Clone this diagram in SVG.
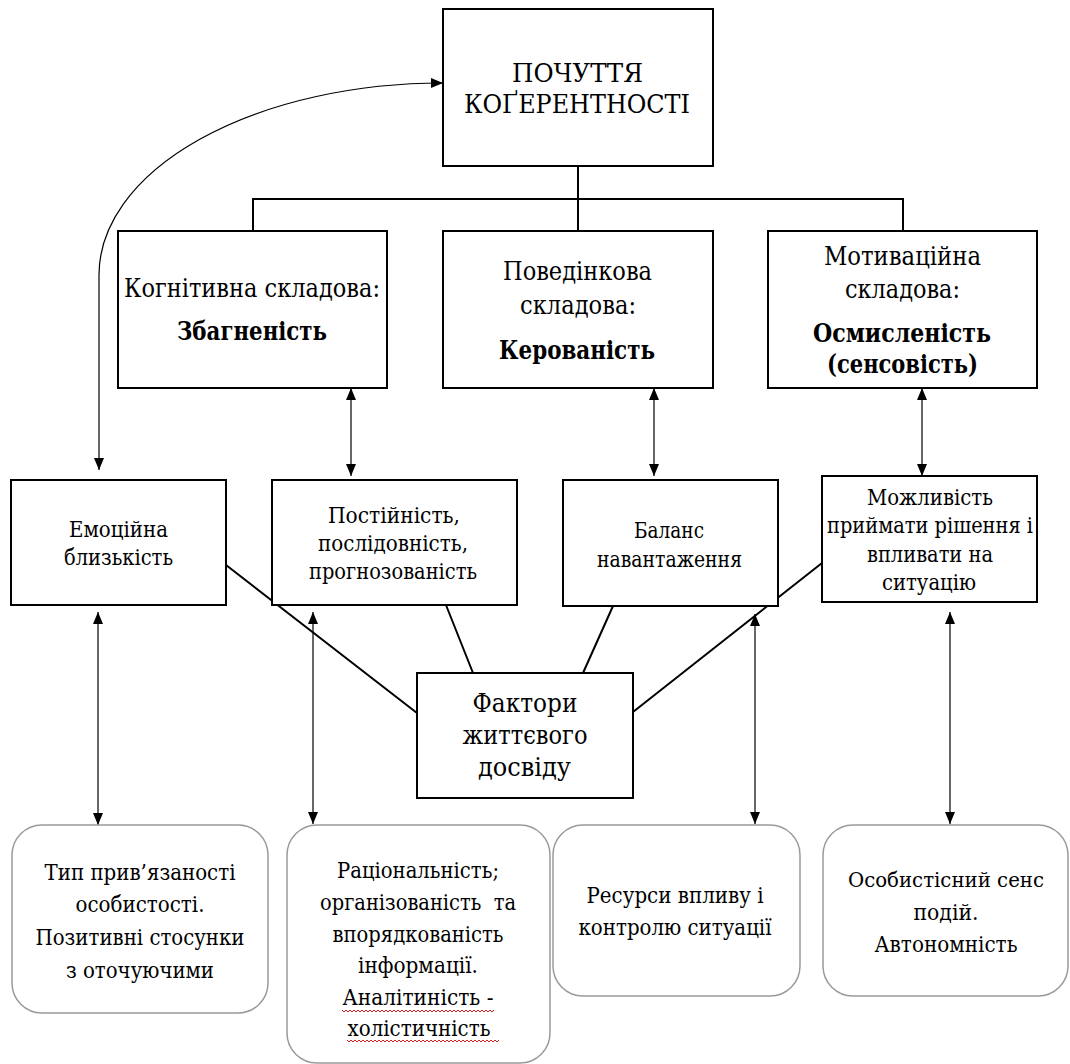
<svg xmlns="http://www.w3.org/2000/svg" width="1070" height="1064" viewBox="0 0 1070 1064">
<style>
text{font-family:"DejaVu Serif","Noto Serif",serif;fill:#000;text-anchor:middle}
.t26{font-size:26px}
.t23{font-size:23px}
.t21{font-size:21px}
.b{font-weight:bold}
.box{fill:#fff;stroke:#000;stroke-width:2}
.rbox{fill:#fff;stroke:#9a9a9a;stroke-width:1.5}
.tree{fill:none;stroke:#000;stroke-width:2}
.thin{fill:none;stroke:#000;stroke-width:1.2}
.sq{fill:none;stroke:#d42020;stroke-width:1}
</style>
<defs>
<marker id="ah" viewBox="0 0 12 10" refX="12" refY="5" markerWidth="12" markerHeight="10" markerUnits="userSpaceOnUse" orient="auto-start-reverse">
<path d="M0,0 L12,5 L0,10 Z" fill="#000"/>
</marker>
</defs>
<rect width="1070" height="1064" fill="#fff"/>

<g id="connectors">
<path class="tree" d="M578 166 V231 M253 231 V199 H903 V231"/>
<path class="thin" d="M99 470 V275 A344 192 0 0 1 443 83" marker-start="url(#ah)" marker-end="url(#ah)"/>
<line class="thin" x1="351" y1="388" x2="351" y2="476" marker-start="url(#ah)" marker-end="url(#ah)"/>
<line class="thin" x1="654" y1="388" x2="654" y2="476" marker-start="url(#ah)" marker-end="url(#ah)"/>
<line class="thin" x1="922" y1="388" x2="922" y2="476" marker-start="url(#ah)" marker-end="url(#ah)"/>
<line class="thin" x1="98" y1="612" x2="98" y2="825" marker-start="url(#ah)" marker-end="url(#ah)"/>
<line class="thin" x1="313" y1="612" x2="313" y2="824" marker-start="url(#ah)" marker-end="url(#ah)"/>
<line class="thin" x1="755" y1="614" x2="755" y2="824" marker-start="url(#ah)" marker-end="url(#ah)"/>
<line class="thin" x1="950" y1="612" x2="950" y2="824" marker-start="url(#ah)" marker-end="url(#ah)"/>
<path class="tree" d="M226 565 L417 713 M446 605 L473 673 M613 606 L583 673 M633 712 L822 563"/>
</g>

<g id="top">
<rect class="box" x="443" y="9" width="270" height="157"/>
<text class="t26" x="577.5" y="82" textLength="131" lengthAdjust="spacingAndGlyphs">ПОЧУТТЯ</text>
<text class="t26" x="577" y="113" textLength="226" lengthAdjust="spacingAndGlyphs">КОҐЕРЕНТНОСТІ</text>
</g>

<g id="cognitive">
<rect class="box" x="118" y="231" width="269" height="157"/>
<text class="t26" x="252" y="297" textLength="256" lengthAdjust="spacingAndGlyphs">Когнітивна складова:</text>
<text class="t26 b" x="252" y="340" textLength="150" lengthAdjust="spacingAndGlyphs">Збагненість</text>
</g>

<g id="behavioral">
<rect class="box" x="443" y="231" width="270" height="157"/>
<text class="t26" x="577.5" y="280" textLength="149" lengthAdjust="spacingAndGlyphs">Поведінкова</text>
<text class="t26" x="578" y="314" textLength="116" lengthAdjust="spacingAndGlyphs">складова:</text>
<text class="t26 b" x="577" y="359" textLength="156" lengthAdjust="spacingAndGlyphs">Керованість</text>
</g>

<g id="motivational">
<rect class="box" x="768" y="231" width="269" height="157"/>
<text class="t26" x="902.5" y="265" textLength="157" lengthAdjust="spacingAndGlyphs">Мотиваційна</text>
<text class="t26" x="902.5" y="298" textLength="115" lengthAdjust="spacingAndGlyphs">складова:</text>
<text class="t26 b" x="902" y="342" textLength="178" lengthAdjust="spacingAndGlyphs">Осмисленість</text>
<text class="t26 b" x="902.5" y="373" textLength="151" lengthAdjust="spacingAndGlyphs">(сенсовість)</text>
</g>

<g id="emotional">
<rect class="box" x="11" y="480" width="215" height="125"/>
<text class="t23" x="118.5" y="537" textLength="99" lengthAdjust="spacingAndGlyphs">Емоційна</text>
<text class="t23" x="118.5" y="565" textLength="109" lengthAdjust="spacingAndGlyphs">близькість</text>
</g>

<g id="constancy">
<rect class="box" x="272" y="480" width="245" height="125"/>
<text class="t23" x="394" y="523" textLength="132" lengthAdjust="spacingAndGlyphs">Постійність,</text>
<text class="t23" x="393" y="551" textLength="150" lengthAdjust="spacingAndGlyphs">послідовність,</text>
<text class="t23" x="393" y="579" textLength="168" lengthAdjust="spacingAndGlyphs">прогнозованість</text>
</g>

<g id="balance">
<rect class="box" x="563" y="480" width="215" height="126"/>
<text class="t23" x="669" y="538" textLength="70" lengthAdjust="spacingAndGlyphs">Баланс</text>
<text class="t23" x="669.5" y="567" textLength="145" lengthAdjust="spacingAndGlyphs">навантаження</text>
</g>

<g id="possibility">
<rect class="box" x="822" y="476" width="215" height="126"/>
<text class="t23" x="930" y="505" textLength="126" lengthAdjust="spacingAndGlyphs">Можливість</text>
<text class="t23" x="930" y="533" textLength="206" lengthAdjust="spacingAndGlyphs">приймати рішення і</text>
<text class="t23" x="930" y="562" textLength="126" lengthAdjust="spacingAndGlyphs">впливати на</text>
<text class="t23" x="929" y="590" textLength="94" lengthAdjust="spacingAndGlyphs">ситуацію</text>
</g>

<g id="factors">
<rect class="box" x="417" y="673" width="216" height="125"/>
<text class="t26" x="525" y="712" textLength="105" lengthAdjust="spacingAndGlyphs">Фактори</text>
<text class="t26" x="525" y="744" textLength="125" lengthAdjust="spacingAndGlyphs">життєвого</text>
<text class="t26" x="524.5" y="776" textLength="93" lengthAdjust="spacingAndGlyphs">досвіду</text>
</g>

<g id="attachment">
<rect class="rbox" x="12" y="825" width="256" height="188" rx="30"/>
<text class="t23" x="140" y="880" textLength="191" lengthAdjust="spacingAndGlyphs">Тип прив’язаності</text>
<text class="t23" x="140" y="912" textLength="129" lengthAdjust="spacingAndGlyphs">особистості.</text>
<text class="t23" x="140" y="945" textLength="209" lengthAdjust="spacingAndGlyphs">Позитивні стосунки</text>
<text class="t23" x="140" y="978" textLength="148" lengthAdjust="spacingAndGlyphs">з оточуючими</text>
</g>

<g id="rationality">
<rect class="rbox" x="287" y="825" width="263" height="238" rx="30"/>
<text class="t23" x="418" y="878" textLength="162" lengthAdjust="spacingAndGlyphs">Раціональність;</text>
<text class="t23" x="418" y="910" textLength="196" lengthAdjust="spacingAndGlyphs" xml:space="preserve">організованість  та</text>
<text class="t23" x="418" y="942" textLength="171" lengthAdjust="spacingAndGlyphs">впорядкованість</text>
<text class="t23" x="418" y="973" textLength="120" lengthAdjust="spacingAndGlyphs">інформації.</text>
<text class="t23" x="418" y="1005" textLength="151" lengthAdjust="spacingAndGlyphs">Аналітиність -</text>
<text class="t23" x="419" y="1036" textLength="143" lengthAdjust="spacingAndGlyphs">холістичність</text>
<path class="sq" d="M342 1010 l2 2 l2 -2 l2 2 l2 -2 l2 2 l2 -2 l2 2 l2 -2 l2 2 l2 -2 l2 2 l2 -2 l2 2 l2 -2 l2 2 l2 -2 l2 2 l2 -2 l2 2 l2 -2 l2 2 l2 -2 l2 2 l2 -2 l2 2 l2 -2 l2 2 l2 -2 l2 2 l2 -2 l2 2 l2 -2 l2 2 l2 -2 l2 2 l2 -2 l2 2 l2 -2 l2 2 l2 -2 l2 2 l2 -2 l2 2 l2 -2 l2 2 l2 -2 l2 2 l2 -2 l2 2 l2 -2 l2 2 l2 -2 l2 2 l2 -2 l2 2 l2 -2 l2 2 l2 -2 l2 2 l2 -2 l2 2 l2 -2 l2 2 l2 -2 l2 2 l2 -2 l2 2 l2 -2 l2 2 l2 -2 l2 2 l2 -2 l2 2 l2 -2 l2 2 l2 -2"/>
<path class="sq" d="M347 1040 l2 2 l2 -2 l2 2 l2 -2 l2 2 l2 -2 l2 2 l2 -2 l2 2 l2 -2 l2 2 l2 -2 l2 2 l2 -2 l2 2 l2 -2 l2 2 l2 -2 l2 2 l2 -2 l2 2 l2 -2 l2 2 l2 -2 l2 2 l2 -2 l2 2 l2 -2 l2 2 l2 -2 l2 2 l2 -2 l2 2 l2 -2 l2 2 l2 -2 l2 2 l2 -2 l2 2 l2 -2 l2 2 l2 -2 l2 2 l2 -2 l2 2 l2 -2 l2 2 l2 -2 l2 2 l2 -2 l2 2 l2 -2 l2 2 l2 -2 l2 2 l2 -2 l2 2 l2 -2 l2 2 l2 -2 l2 2 l2 -2 l2 2 l2 -2 l2 2 l2 -2 l2 2 l2 -2 l2 2 l2 -2 l2 2 l2 -2 l2 2 l2 -2 l2 2 l2 -2"/>
</g>

<g id="resources">
<rect class="rbox" x="553" y="825" width="247" height="171" rx="30"/>
<text class="t23" x="675" y="903" textLength="177" lengthAdjust="spacingAndGlyphs">Ресурси впливу і</text>
<text class="t23" x="675" y="935" textLength="193" lengthAdjust="spacingAndGlyphs">контролю ситуації</text>
</g>

<g id="autonomy">
<rect class="rbox" x="823" y="825" width="245" height="171" rx="30"/>
<text class="t21" x="946" y="887" textLength="196" lengthAdjust="spacingAndGlyphs">Особистісний сенс</text>
<text class="t23" x="946" y="920" textLength="65" lengthAdjust="spacingAndGlyphs">подій.</text>
<text class="t23" x="946" y="952" textLength="143" lengthAdjust="spacingAndGlyphs">Автономність</text>
</g>
</svg>
